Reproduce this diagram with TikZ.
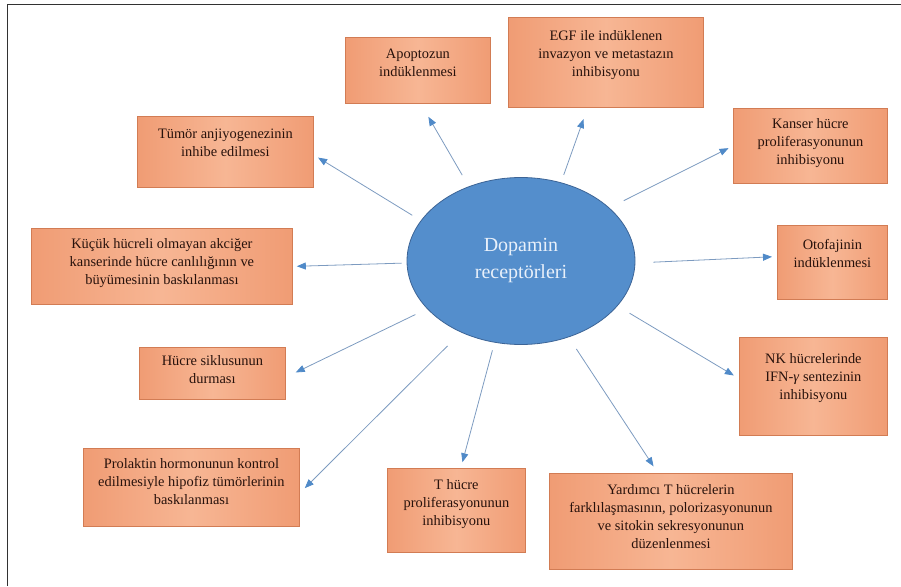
\documentclass[tikz,border=0pt]{standalone}
\usepackage{fontspec}
\setmainfont{Liberation Serif}
\usepackage{tikz}
\usetikzlibrary{shapes.geometric, arrows.meta}

\definecolor{framegray}{RGB}{50,50,50}
\definecolor{dopblue}{RGB}{84,142,204}
\definecolor{dopedge}{RGB}{60,100,150}
\definecolor{doptext}{RGB}{232,240,250}
\definecolor{boxedge}{RGB}{240,156,116}
\definecolor{boxmid}{RGB}{247,182,148}
\definecolor{boxline}{RGB}{210,124,84}
\definecolor{boxtextc}{RGB}{40,18,12}
\definecolor{lineblue}{RGB}{125,155,192}
\definecolor{tipblue}{RGB}{80,138,200}

% top-aligned text inside a fixed box: width, height, first baseline, text
\newcommand{\boxtext}[4][22pt]{\parbox[c][#3][t]{#2}{\centering\rule{0pt}{#1}#4}}

\begin{document}
\begin{tikzpicture}[x=1pt, y=-1pt,
	obox/.style={draw=boxline, line width=0.8pt, left color=boxedge, right color=boxedge, middle color=boxmid, inner sep=0pt, anchor=north west, text=boxtextc, font=\fontsize{14.4}{18}\selectfont},
	dopnode/.style={ellipse, draw=dopedge, line width=0.8pt, fill=dopblue, minimum width=228pt, minimum height=167pt, inner sep=0pt, align=center, text=doptext, font=\fontsize{20}{27}\selectfont},
	arr/.style={draw=lineblue, line width=0.8pt, -{Triangle[length=9pt, width=7pt, color=tipblue]}}]

	\useasboundingbox (0,0) rectangle (901,586);

	% frame
	\draw[framegray, line width=1.6pt] (7.5,586) -- (7.5,4.5) -- (901,4.5);

	% centre
	\node[dopnode] (dop) at (521,261) {Dopamin\\receptörleri};

	% boxes
	\node[obox] (apo) at (345,37) {\boxtext[21pt]{145pt}{66pt}{Apoptozun\\indüklenmesi}};
	\node[obox] (egf) at (508,17) {\boxtext[23pt]{195pt}{90pt}{EGF ile indüklenen\\invazyon ve metastazın\\inhibisyonu}};
	\node[obox] (kanser) at (733,108) {\boxtext[20pt]{154pt}{75pt}{Kanser hücre\\proliferasyonunun\\inhibisyonu}};
	\node[obox] (oto) at (777,225) {\boxtext[24pt]{110pt}{74pt}{Otofajinin\\indüklenmesi}};
	\node[obox] (nk) at (739,337) {\boxtext[26pt]{148pt}{98pt}{NK hücrelerinde\\IFN-\textit{γ} sentezinin\\inhibisyonu}};
	\node[obox] (yard) at (549,473) {\boxtext[21pt]{243pt}{96pt}{Yardımcı T hücrelerin\\farklılaşmasının, polorizasyonunun\\ve sitokin sekresyonunun\\düzenlenmesi}};
	\node[obox] (thuc) at (387,468) {\boxtext[21pt]{138pt}{84pt}{T hücre\\proliferasyonunun\\inhibisyonu}};
	\node[obox] (prol) at (83,448) {\boxtext[20pt]{216pt}{78pt}{Prolaktin hormonunun kontrol\\edilmesiyle hipofiz tümörlerinin\\baskılanması}};
	\node[obox] (sik) at (139,347) {\boxtext[18pt]{146pt}{52pt}{Hücre siklusunun\\durması}};
	\node[obox] (kucuk) at (31,228) {\boxtext[20pt]{261pt}{76pt}{Küçük hücreli olmayan akciğer\\kanserinde hücre canlılığının ve\\büyümesinin baskılanması}};
	\node[obox] (tumor) at (137,116) {\boxtext[22pt]{176pt}{71pt}{Tümör anjiyogenezinin\\inhibe edilmesi}};

	% arrows
	\draw[arr, shorten <=13pt, shorten >=15pt] (dop.125) -- (apo.-85);
	\draw[arr, shorten <=8pt, shorten >=12pt] (dop.63) -- (egf.-112);
	\draw[arr, shorten <=16pt, shorten >=5pt] (dop.31) -- (kanser.180);
	\draw[arr, shorten <=18pt, shorten >=5pt] (dop.-1) -- (oto.174);
	\draw[arr, shorten <=14pt, shorten >=6pt] (dop.-25) -- (nk.174);
	\draw[arr, shorten <=14pt, shorten >=8pt] (dop.-58) -- (yard.105);
	\draw[arr, shorten <=8pt, shorten >=6pt] (dop.-108) -- (thuc.84);
	\draw[arr, shorten <=19pt, shorten >=7pt] (dop.-130) -- (prol.-3);
	\draw[arr, shorten <=13pt, shorten >=11pt] (dop.-153) -- (sik.-3);
	\draw[arr, shorten <=5pt, shorten >=4pt] (dop.-179) -- (kucuk.0);
	\draw[arr, shorten <=10pt, shorten >=5pt] (dop.158) -- (tumor.-2);
\end{tikzpicture}
\end{document}
